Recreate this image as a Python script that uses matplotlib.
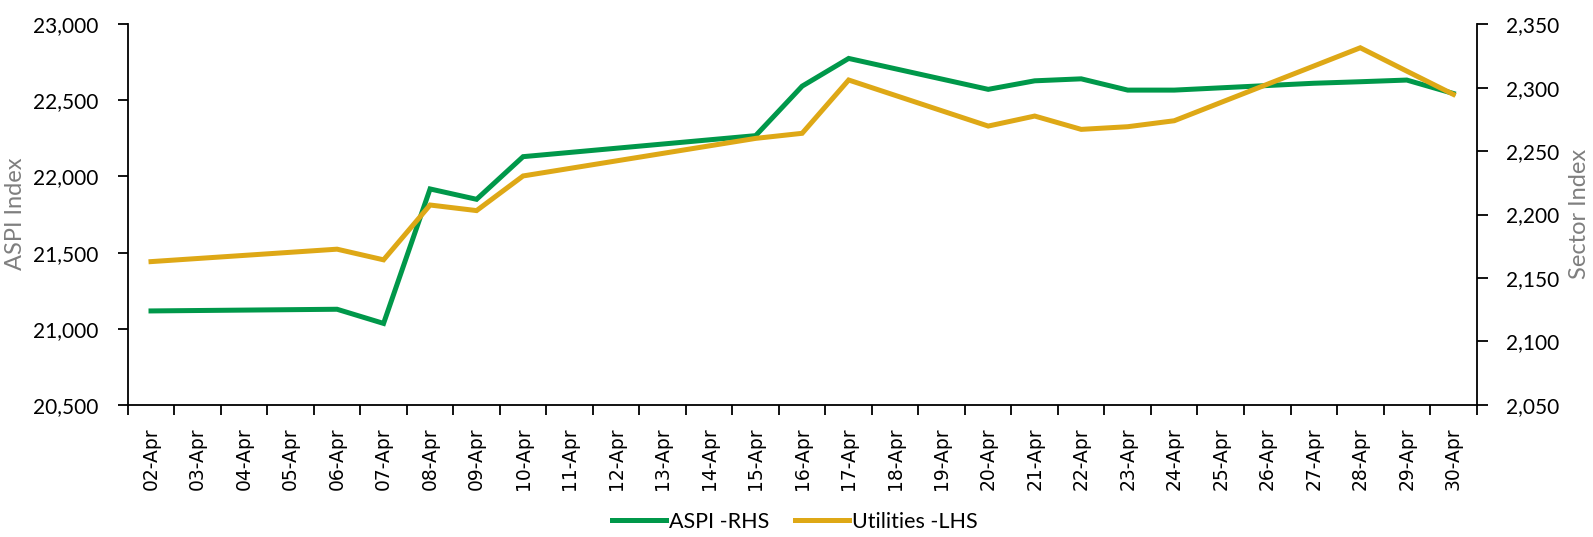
import matplotlib
matplotlib.use("Agg")
import matplotlib.pyplot as plt
from matplotlib.ticker import FuncFormatter, FixedLocator

# ---- data ----
categories = ['02-Apr', '03-Apr', '04-Apr', '05-Apr', '06-Apr', '07-Apr', '08-Apr', '09-Apr',
              '10-Apr', '11-Apr', '12-Apr', '13-Apr', '14-Apr', '15-Apr', '16-Apr', '17-Apr',
              '18-Apr', '19-Apr', '20-Apr', '21-Apr', '22-Apr', '23-Apr', '24-Apr', '25-Apr',
              '26-Apr', '27-Apr', '28-Apr', '29-Apr', '30-Apr']
trade_dates = ['02-Apr', '06-Apr', '07-Apr', '08-Apr', '09-Apr', '10-Apr', '15-Apr', '16-Apr',
               '17-Apr', '20-Apr', '21-Apr', '22-Apr', '23-Apr', '24-Apr', '27-Apr', '28-Apr',
               '29-Apr', '30-Apr']
aspi = [21117, 21128, 21035, 21918, 21850, 22130, 22268, 22593,
        22775, 22572, 22628, 22641, 22567, 22567, 22612, 22622,
        22633, 22545]
utilities = [2162.9, 2172.7, 2164.3, 2207.5, 2203.1, 2230.4, 2260.0, 2264.0,
             2306.0, 2269.7, 2277.6, 2267.1, 2269.2, 2273.9, 2317.0, 2331.4,
             2313.0, 2294.7]
left_ticks = [20500, 21000, 21500, 22000, 22500, 23000]
right_ticks = [2050, 2100, 2150, 2200, 2250, 2300, 2350]

GREEN = '#00984A'
GOLD = '#DEA816'

fig = plt.figure(figsize=(15.93, 5.37), dpi=100)
ax = fig.add_axes([0.0802, 0.246, 0.8467, 0.709])
ax2 = ax.twinx()

xpos = [categories.index(d) for d in trade_dates]
l1, = ax.plot(xpos, aspi, color=GREEN, lw=3.6, solid_joinstyle='miter', label='ASPI -RHS', zorder=3)
l2, = ax2.plot(xpos, utilities, color=GOLD, lw=3.6, solid_joinstyle='miter', label='Utilities -LHS', zorder=3)

ax.set_xlim(-0.5, len(categories) - 0.5)
ax.set_ylim(20500, 23000)
ax2.set_ylim(2050, 2350)

ax.set_yticks(left_ticks)
ax2.set_yticks(right_ticks)
fmt = FuncFormatter(lambda v, p: f"{int(v):,}")
ax.yaxis.set_major_formatter(fmt)
ax2.yaxis.set_major_formatter(fmt)

ax.set_xticks(range(len(categories)))
ax.set_xticklabels(categories, rotation=90, family='DejaVu Sans', fontsize=13.5)
ax.xaxis.set_minor_locator(FixedLocator([i - 0.5 for i in range(len(categories) + 1)]))
ax.tick_params(axis='x', which='major', length=0, pad=16)
ax.tick_params(axis='x', which='minor', length=7, width=1.3, direction='out', color='black')

for a in (ax, ax2):
    a.spines['top'].set_visible(False)
    for s in a.spines.values():
        s.set_linewidth(1.3)
        s.set_color('black')

ax.spines['right'].set_visible(False)
ax2.spines['left'].set_visible(False)
ax2.spines['bottom'].set_visible(False)

for lab in ax.get_yticklabels() + ax2.get_yticklabels():
    lab.set_family('Lato')
    lab.set_fontsize(15)
ax.tick_params(axis='y', length=7, width=1.3, pad=14)
ax2.tick_params(axis='y', length=8, width=1.3, pad=13)

fig.text(16 / 1593, 1 - 214 / 537, 'ASPI Index', rotation=90, ha='center', va='center',
         family='Lato', fontsize=17, color='#7F7F7F')
fig.text(1579 / 1593, 1 - 214 / 537, 'Sector Index', rotation=90, ha='center', va='center',
         family='Lato', fontsize=17, color='#7F7F7F')

leg = fig.legend(handles=[l1, l2], loc='center', bbox_to_anchor=(0.499, 0.028), ncol=2,
                 frameon=False, prop={'family': 'Lato', 'size': 15.5},
                 handlelength=2.5, handletextpad=0.15, columnspacing=1.2)

fig.savefig('out.png', dpi=100)
